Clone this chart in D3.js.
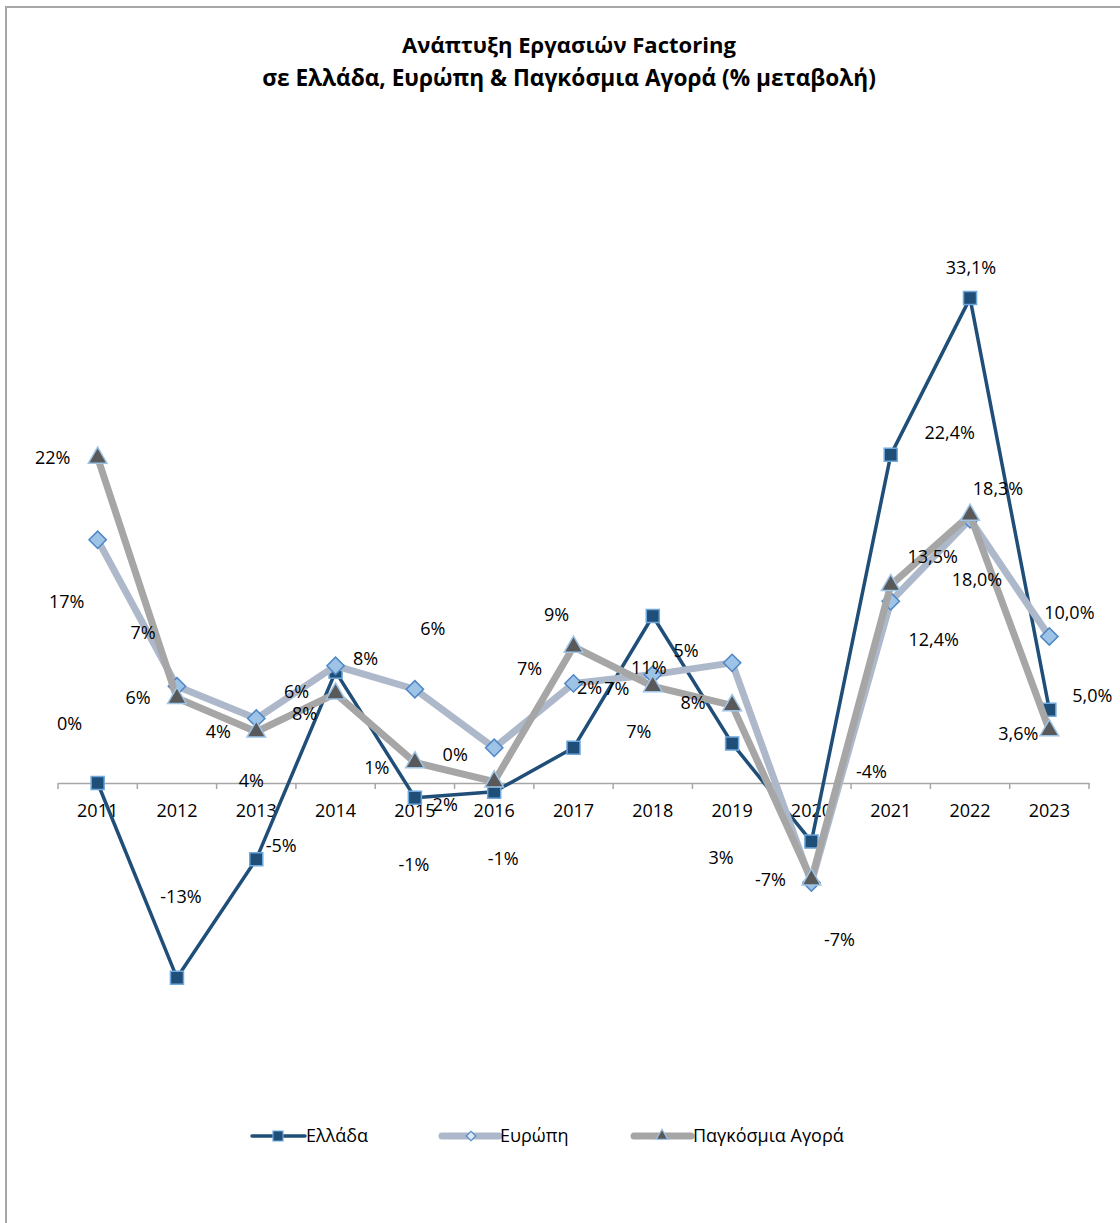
<!DOCTYPE html>
<html>
<head>
<meta charset="utf-8">
<script src="https://cdn.jsdelivr.net/npm/d3@7"></script>
<style>
  body { margin: 0; background: #ffffff; }
  svg { display: block; }
</style>
</head>
<body>
<svg id="chart" width="1120" height="1223"></svg>
<script>
// ---- data: yearly % change in factoring turnover ----
const years  = ["2011","2012","2013","2014","2015","2016","2017","2018","2019","2020","2021","2022","2023"];
const greece = [0, -13.3, -5.2, 7.6, -1.0, -0.6, 2.4, 11.4, 2.7, -4.0, 22.4, 33.1, 5.0];
const europe = [16.6, 6.6, 4.4, 8.0, 6.4, 2.4, 6.8, 7.4, 8.2, -6.8, 12.4, 18.0, 10.0];
const world  = [22.2, 5.8, 3.5, 6.1, 1.4, 0.1, 9.3, 6.6, 5.3, -6.6, 13.5, 18.3, 3.6];
const seriesNames = ["Ελλάδα", "Ευρώπη", "Παγκόσμια Αγορά"];
const titleLines = ["Ανάπτυξη Εργασιών Factoring", "σε Ελλάδα, Ευρώπη & Παγκόσμια Αγορά (% μεταβολή)"];
const firstOneDecimalYear = "2021";

// ---- layout: data-label offsets (px) from each point ----
const greeceNudge = [[-28,-59],[4,-81],[25,-13],[-31,42],[-1,67],[9,67],[16,-60],[-4,52],[-11,114],[60,-70],[59,-22],[1,-30],[43,-14]];
const europeNudge = [[-31,62],[-34,-54],[-5,62],[30,-7],[18,-61],[-49,57],[-44,-15],[-14,57],[-39,40],[28,57],[43,38],[7,60],[20,-24]];
const worldNudge  = [[-45,0],[-39,0],[-38,0],[-39,-2],[-38,5],[-39,-27],[-17,-32],[-36,2],[-46,-55],[-41,0],[42,-29],[28,-26],[-31,3]];

const FONT = "'Open Sans', 'DejaVu Sans', sans-serif";
const svg = d3.select("#chart");

// outer chart frame
svg.append("rect")
  .attr("x", 6).attr("y", 7).attr("width", 1140).attr("height", 1240)
  .attr("fill", "#ffffff").attr("stroke", "#a6a6a6").attr("stroke-width", 2);

// title, each line sized to its span
const titleWidths = [334, 614];
titleLines.forEach((t, i) => {
  const el = svg.append("text")
    .attr("x", 569).attr("y", 53 + i * 33)
    .attr("text-anchor", "middle")
    .attr("font-family", FONT).attr("font-weight", "bold")
    .attr("font-size", 20).attr("fill", "#000")
    .text(t);
  const w = el.node().getComputedTextLength();
  el.attr("font-size", 20 * titleWidths[i] / w);
});

// scales
const x = d3.scaleBand().domain(years).range([58, 1089]).padding(0);
const cx = d => x(d) + x.bandwidth() / 2;
const y = d3.scaleLinear().domain([-20, 40]).range([1076, 197]);

// category axis on the zero line
const axisG = svg.append("g")
  .attr("transform", `translate(0,${y(0)})`)
  .call(d3.axisBottom(x).tickSizeInner(0).tickSizeOuter(0).tickPadding(21));
axisG.select(".domain").attr("stroke", "#a6a6a6").attr("stroke-width", 1.5);
axisG.selectAll("text")
  .attr("font-family", FONT).attr("font-size", 18).attr("fill", "#000");
// boundary tick marks between categories
const bounds = d3.range(years.length + 1).map(i => x.range()[0] + i * x.step());
axisG.selectAll(".bound").data(bounds).join("line")
  .attr("class", "bound")
  .attr("x1", d => d).attr("x2", d => d)
  .attr("y1", 0).attr("y2", 6)
  .attr("stroke", "#a6a6a6").attr("stroke-width", 1.5);

const fmtLocale = d3.formatLocale({ decimal: ",", thousands: ".", grouping: [3], currency: ["", "€"], minus: "-" });
const fmt0 = fmtLocale.format(".0f");
const fmt1 = fmtLocale.format(".1f");
const labelText = (v, yr) => (yr >= firstOneDecimalYear ? fmt1(v) : fmt0(v)) + "%";

const series = [
  { name: seriesNames[0], values: greece, nudge: greeceNudge,
    line: "#1f4e79", width: 3.5, symbol: d3.symbolSquare, size: 170, rotate: 0,
    fill: "#1f4e79", stroke: "#6fa8dc", legendSize: 100, lx: [252, 305], lm: 278, tx: 306 },
  { name: seriesNames[1], values: europe, nudge: europeNudge,
    line: "#adb9ca", width: 7, symbol: d3.symbolSquare, size: 150, rotate: 45,
    fill: "#9dc3e6", stroke: "#4f86c6", legendSize: 45, lx: [442, 499], lm: 471, tx: 500 },
  { name: seriesNames[2], values: world, nudge: worldNudge,
    line: "#a6a6a6", width: 7, symbol: d3.symbolTriangle, size: 150, rotate: 0,
    fill: "#595959", stroke: "#9dc3e6", legendSize: 60, lx: [634, 691], lm: 662, tx: 693 }
];

const lineGen = d3.line().x((d, i) => cx(years[i])).y(d => y(d));

series.forEach(s => {
  const g = svg.append("g");
  g.append("path")
    .datum(s.values)
    .attr("d", lineGen)
    .attr("fill", "none")
    .attr("stroke", s.line)
    .attr("stroke-width", s.width)
    .attr("stroke-linejoin", "round");
  g.selectAll("path.mark").data(s.values).join("path")
    .attr("class", "mark")
    .attr("d", d3.symbol(s.symbol, s.size))
    .attr("transform", (d, i) => `translate(${cx(years[i])},${y(d)}) rotate(${s.rotate})`)
    .attr("fill", s.fill)
    .attr("stroke", s.stroke)
    .attr("stroke-width", 1.5);
});

// data labels
series.forEach(s => {
  svg.append("g").selectAll("text").data(s.values).join("text")
    .attr("x", (d, i) => cx(years[i]) + s.nudge[i][0])
    .attr("y", (d, i) => y(d) + s.nudge[i][1])
    .attr("dy", "0.35em")
    .attr("text-anchor", "middle")
    .attr("font-family", FONT).attr("font-size", 18).attr("fill", "#000")
    .text((d, i) => labelText(d, years[i]));
});

// legend
const ly = 1136;
series.forEach(s => {
  const g = svg.append("g");
  g.append("line")
    .attr("x1", s.lx[0]).attr("x2", s.lx[1]).attr("y1", ly).attr("y2", ly)
    .attr("stroke", s.line).attr("stroke-width", s.width).attr("stroke-linecap", "round");
  g.append("path")
    .attr("d", d3.symbol(s.symbol, s.legendSize))
    .attr("transform", `translate(${s.lm},${ly}) rotate(${s.rotate})`)
    .attr("fill", s.name === seriesNames[1] ? "#dbe8f5" : s.fill)
    .attr("stroke", s.stroke).attr("stroke-width", 1.2);
  g.append("text")
    .attr("x", s.tx).attr("y", ly).attr("dy", "0.35em")
    .attr("font-family", FONT).attr("font-size", 18).attr("fill", "#000")
    .text(s.name);
});
</script>
</body>
</html>
